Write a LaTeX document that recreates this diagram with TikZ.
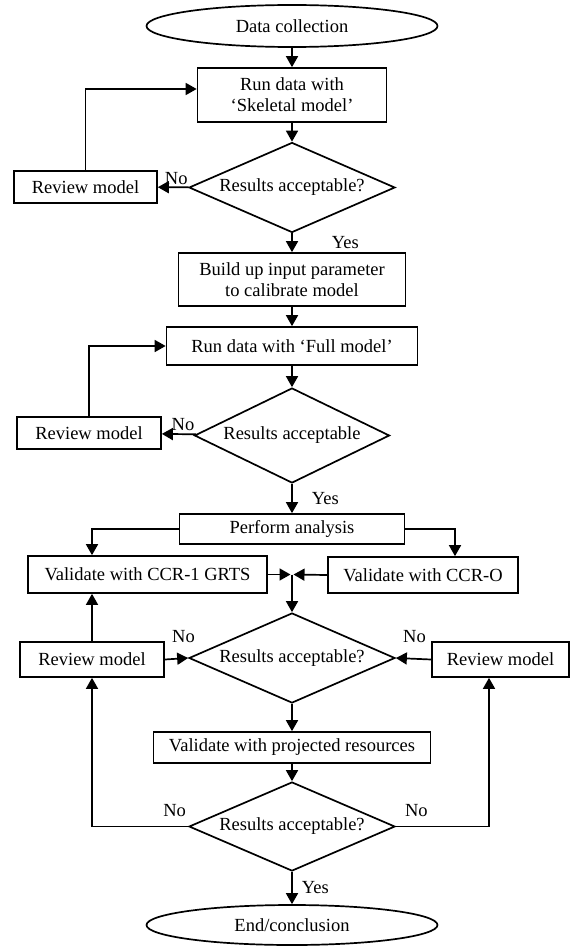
\documentclass[tikz,border=0pt]{standalone}
\usepackage{fontspec}
\setmainfont{Liberation Serif}
\usetikzlibrary{shapes.geometric,arrows.meta,calc}

\tikzset{
  flow/.style={draw, line width=1.7pt, font=\fontsize{18.5}{21}\selectfont},
  stepbox/.style={flow, rectangle, inner sep=0pt, align=center},
  terminal/.style={flow, ellipse, inner sep=0pt, minimum width=291pt},
  decision/.style={flow, diamond, aspect=2.3, inner sep=0pt, minimum width=206pt, minimum height=90pt},
  arr/.style={-{Triangle[length=11pt,width=12pt]}, line width=1.7pt},
  lbl/.style={font=\fontsize{18.5}{21}\selectfont, inner sep=1pt},
}

\begin{document}
\begin{tikzpicture}[x=1pt, y=-1pt]
    \useasboundingbox (0,0) rectangle (574,947);

    \node [terminal, minimum height=42pt] (start) at (292,26) {Data collection};
    \node [stepbox, minimum width=189pt, minimum height=54pt] (run1) at (292,95) {Run data with\\‘Skeletal model’};
    \node [decision] (dec1) at (292,187.5) {Results acceptable?};
    \node [stepbox, minimum width=143pt, minimum height=32pt] (rev1) at (85.5,187) {Review model};

    \node [stepbox, minimum width=227pt, minimum height=53pt] (build) at (292,279.5) {Build up input parameter\\to calibrate model};
    \node [stepbox, minimum width=251pt, minimum height=38pt] (run2) at (292,346) {Run data with ‘Full model’};
    \node [decision, minimum width=195pt, minimum height=95pt] (dec2) at (292,435.5) {Results acceptable};
    \node [stepbox, minimum width=144pt, minimum height=32pt] (rev2) at (89,433) {Review model};

    \node [stepbox, minimum width=225pt, minimum height=30pt] (perf) at (292,529) {Perform analysis};
    \node [stepbox, minimum width=239pt, minimum height=37pt] (val1) at (147.5,574.5) {Validate with CCR-1 GRTS};
    \node [stepbox, minimum width=190pt, minimum height=36pt] (val2) at (423,575) {Validate with CCR-O};
    \coordinate (merge) at (292,574.5);

    \node [decision] (dec3) at (292,658) {Results acceptable?};
    \node [stepbox, minimum width=144pt, minimum height=35pt] (revL) at (92,659.5) {Review model};
    \node [stepbox, minimum width=137pt, minimum height=35pt] (revR) at (500.5,659.5) {Review model};

    \node [stepbox, minimum width=277pt, minimum height=31pt] (proj) at (292,747.5) {Validate with projected resources};
    \node [decision, minimum height=89pt] (dec4) at (292,826.5) {Results acceptable?};
    \node [terminal, minimum height=40pt] (end) at (292,925) {End/conclusion};

    % skeletal model loop
    \draw [arr] (start) -- (run1);
    \draw [arr] (run1) -- (dec1);
    \draw [arr] (dec1) -- (rev1) node [lbl, midway, above=1pt, xshift=3pt] {No};
    \draw [arr] (rev1.north) |- ([yshift=6pt]run1.west);
    \draw [arr] (dec1) -- (build) node [lbl, midway, right=38pt] {Yes};

    % full model loop
    \draw [arr] (build) -- (run2);
    \draw [arr] (run2) -- (dec2);
    \draw [arr] (dec2) -- (rev2) node [lbl, midway, above=2pt, xshift=4pt] {No};
    \draw [arr] (rev2.north) |- (run2.west);
    \draw [arr] (dec2) -- (perf) node [lbl, midway, right=18pt] {Yes};

    % validation
    \draw [arr] (perf.west) -| (revL |- val1.north);
    \draw [arr] (perf.east) -| ([xshift=32pt]val2.north);
    \draw [arr, shorten >=1.5pt] (val1.east) -- (merge);
    \draw [arr, shorten >=1.5pt] (val2.west) -- (merge);
    \draw [arr] (merge) -- (dec3);
    \draw [arr] (revL.east) -- (dec3.west) node [lbl, midway, above=14pt, xshift=7pt] {No};
    \draw [arr] (revR.west) -- (dec3.east) node [lbl, midway, above=14pt, xshift=1pt] {No};
    \draw [arr] (revL.north) -- (revL.north |- val1.south);

    % projected resources
    \draw [arr] (dec3) -- (proj);
    \draw [arr] (proj) -- (dec4);
    \draw [arr] (dec4.west) -| (revL.south) node [lbl, pos=0.07, above=8pt] {No};
    \draw [arr] (dec4.east) -| ([xshift=-11.5pt]revR.south) node [lbl, pos=0.11, above=8pt] {No};
    \draw [arr] (dec4) -- (end) node [lbl, midway, right=8pt] {Yes};
\end{tikzpicture}
\end{document}
